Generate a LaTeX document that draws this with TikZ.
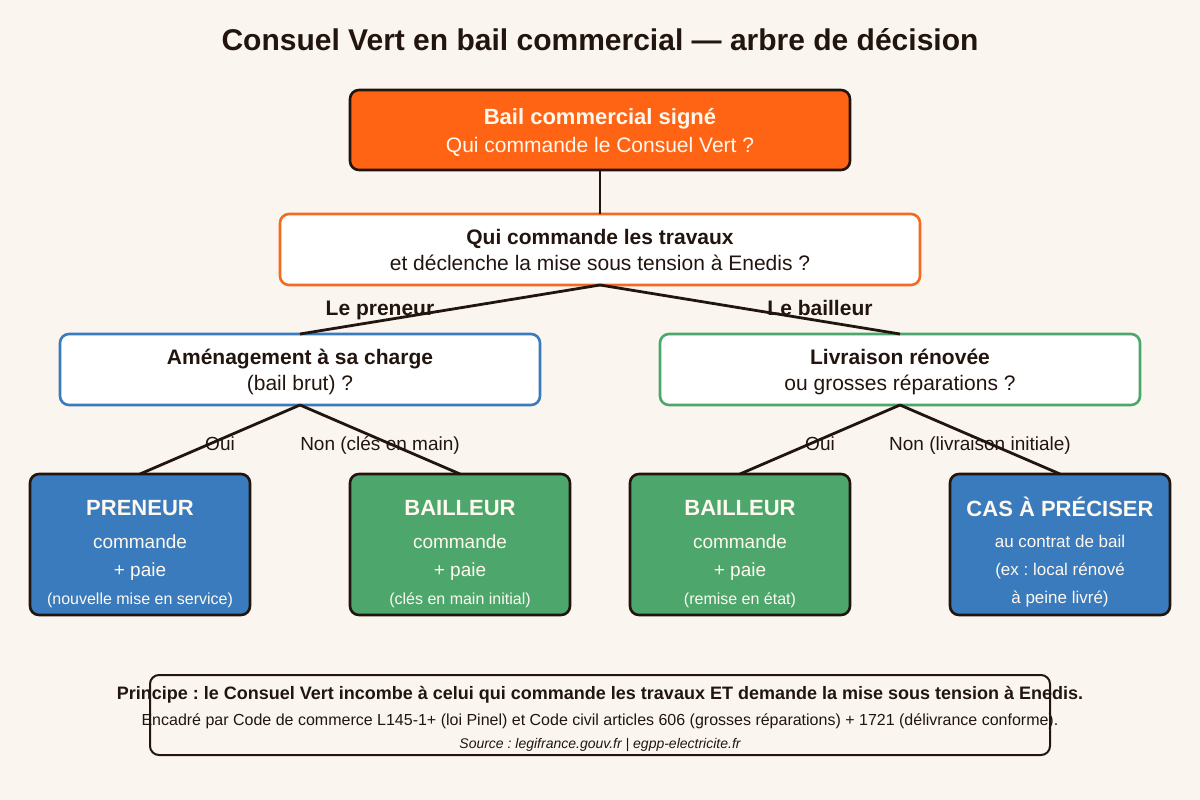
\documentclass[tikz,border=0pt]{standalone}
\usepackage{fontspec}
\setmainfont{Liberation Sans}
\frenchspacing
\usepackage{tikz}
\usepackage{xcolor}
\usetikzlibrary{positioning}
\definecolor{cBg}        {HTML}{FAF6EF}
\definecolor{cInk}       {HTML}{22150F}
\definecolor{cPaper}     {HTML}{FFF8EE}
\definecolor{cOrange}    {HTML}{FF6414}
\definecolor{cOrangeLine}{HTML}{F26B22}
\definecolor{cBlue}      {HTML}{3A7BBD}
\definecolor{cGreen}     {HTML}{4DA76D}
\tikzset{
  box/.style={rectangle, rounded corners=9pt, line width=2.6pt, outer sep=0pt, inner sep=0pt},
  rootbox/.style={box, draw=cInk, fill=cOrange, minimum width=500pt, minimum height=80pt},
  askbox/.style={box, fill=white, minimum width=#1, minimum height=71pt},
  leafbox/.style={box, draw=cInk, minimum width=220pt, minimum height=141pt},
  txt/.style={anchor=base, align=center, inner sep=0pt, text=cInk},
  leaftxt/.style={txt, text=cPaper, font=\fontsize{19}{25}\selectfont},
  branch/.style={draw=cInk, line width=2.8pt},
}

\begin{document}
\begin{tikzpicture}[x=1pt, y=-1pt]
        \path[use as bounding box, fill=cBg] (0,0) rectangle (1200,800);
        \node (title) [txt, font=\fontsize{30}{36}\selectfont\bfseries] at (600,51)
              {Consuel Vert en bail commercial — arbre de décision};

        \node (root) [rootbox] at (600,130) {};
        \node (roottx) [txt, text=cPaper, font=\fontsize{21}{28}\selectfont] at (600,152.5)
              {{\fontsize{22}{28}\selectfont\bfseries Bail commercial signé}\\Qui commande le Consuel Vert ?};

        \node (ask) [askbox=640pt, draw=cOrangeLine] at (600,249.5) {};
        \node (asktx) [txt, font=\fontsize{21}{26}\selectfont] at (600,270.5)
              {{\bfseries Qui commande les travaux}\\et déclenche la mise sous tension à Enedis ?};

        \node (amen) [askbox=480pt, draw=cBlue] at (300,369.5) {};
        \node (amentx) [txt, font=\fontsize{21}{26}\selectfont] at (300,390)
              {{\bfseries Aménagement à sa charge}\\(bail brut) ?};
        \node (livr) [askbox=480pt, draw=cGreen] at (900,369.5) {};
        \node (livrtx) [txt, font=\fontsize{21}{26}\selectfont] at (900,390)
              {{\bfseries Livraison rénovée}\\ou grosses réparations ?};

        \node (lpreneur)  [txt, font=\fontsize{21}{26}\selectfont\bfseries] at (380,315) {Le preneur};
        \node (lbailleur) [txt, font=\fontsize{21}{26}\selectfont\bfseries] at (820,315) {Le bailleur};
        \node (loui1) [txt, font=\fontsize{19}{24}\selectfont] at (220,450) {Oui};
        \node (lnon1) [txt, font=\fontsize{19}{24}\selectfont] at (380,450) {Non (clés en main)};
        \node (loui2) [txt, font=\fontsize{19}{24}\selectfont] at (820,450) {Oui};
        \node (lnon2) [txt, font=\fontsize{19}{24}\selectfont] at (980,450) {Non (livraison initiale)};

        \node (preneur) [leafbox, fill=cBlue]  at (140,544.5) {};
        \node (bailA)   [leafbox, fill=cGreen] at (460,544.5) {};
        \node (bailB)   [leafbox, fill=cGreen] at (740,544.5) {};
        \node (cas)     [leafbox, fill=cBlue]  at (1060,544.5) {};
        \node (preneurtx) [leaftxt] at (140,604)
              {{\fontsize{22}{25}\selectfont\bfseries PRENEUR}\\[8pt]commande\\[3pt]+ paie\\[3pt]{\fontsize{16}{25}\selectfont (nouvelle mise en service)}};
        \node (bailAtx) [leaftxt] at (460,604)
              {{\fontsize{22}{25}\selectfont\bfseries BAILLEUR}\\[8pt]commande\\[3pt]+ paie\\[3pt]{\fontsize{16}{25}\selectfont (clés en main initial)}};
        \node (bailBtx) [leaftxt] at (740,604)
              {{\fontsize{22}{25}\selectfont\bfseries BAILLEUR}\\[8pt]commande\\[3pt]+ paie\\[3pt]{\fontsize{16}{25}\selectfont (remise en état)}};
        \node (castx) [leaftxt, font=\fontsize{17}{25}\selectfont] at (1060,603)
              {{\fontsize{22}{25}\selectfont\bfseries CAS À PRÉCISER}\\[6pt]au contrat de bail\\[3pt](ex : local rénové\\[3pt]à peine livré)};

        \draw[branch] (root.south) -- (ask.north);
        \draw[branch] (ask.south) -- (amen.north);
        \draw[branch] (ask.south) -- (livr.north);
        \draw[branch] (amen.south) -- (preneur.north);
        \draw[branch] (amen.south) -- (bailA.north);
        \draw[branch] (livr.south) -- (bailB.north);
        \draw[branch] (livr.south) -- (cas.north);

        \node (note) [box, draw=cInk, line width=2pt, minimum width=900pt, minimum height=80pt] at (600,715) {};
        \node (notetx) [txt, font=\fontsize{16}{23}\selectfont] at (600,748)
              {{\fontsize{18}{23}\selectfont\bfseries Principe : le Consuel Vert incombe à celui qui commande les travaux ET demande la mise sous tension à Enedis.}\\[3pt]Encadré par Code de commerce L145-1+ (loi Pinel) et Code civil articles 606 (grosses réparations) + 1721 (délivrance conforme).\\{\fontsize{14}{23}\selectfont\itshape Source : legifrance.gouv.fr | egpp-electricite.fr}};
      \end{tikzpicture}
\end{document}
